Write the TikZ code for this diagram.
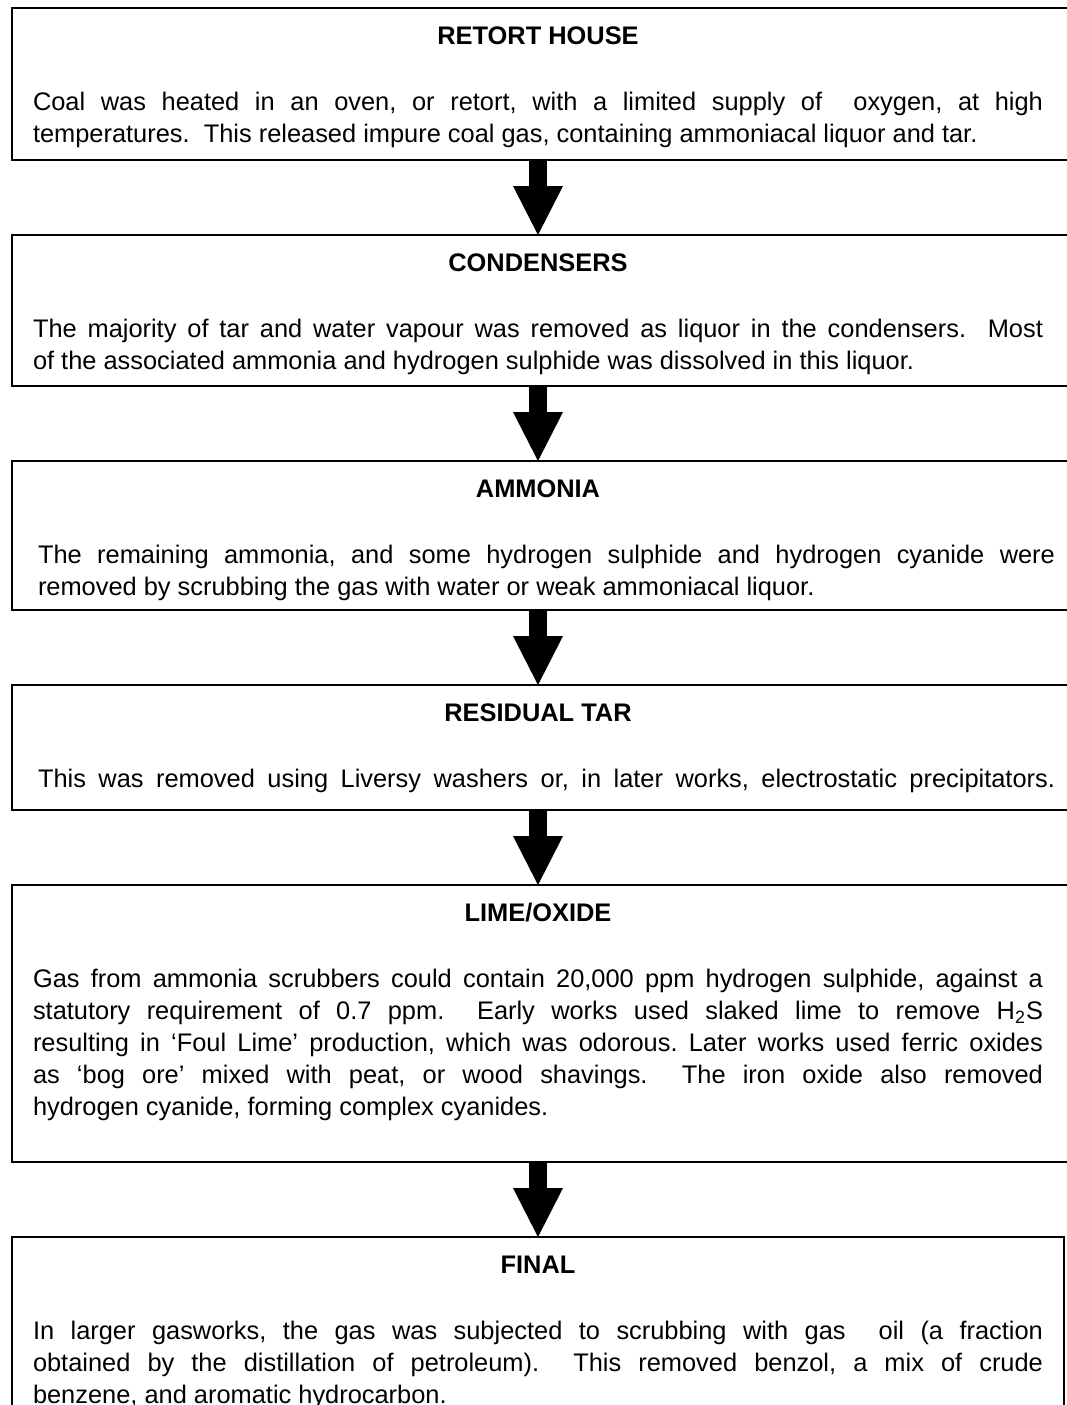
\documentclass[tikz,border=0pt]{standalone}
\usepackage{fontspec}
\setmainfont{Liberation Sans}
\usetikzlibrary{positioning,arrows.meta}
\newcommand{\stagetext}[3]{%
  \parbox[c][#1][t]{505pt}{\frenchspacing\makebox[505pt]{\rule{0pt}{18pt}\textbf{#2}}\par\vspace{17pt}#3}}
\newcommand{\wideset}{\leftskip=2.5pt\rightskip=-6pt\relax}

\begin{document}
\begin{tikzpicture}[
  font=\fontsize{12.7pt}{16pt}\selectfont,
  node distance=37.5pt,
  stage/.style={draw,line width=1pt,inner xsep=10.5pt,inner ysep=0pt,outer sep=0pt},
  openright/.style={draw=none,append after command={\pgfextra{\draw[line width=1pt]
      ([xshift=12pt]\tikzlastnode.north east) -| (\tikzlastnode.south west) -- ([xshift=12pt]\tikzlastnode.south east);}}},
  flow/.style={line width=9pt,-{Triangle[length=24.5pt,width=25pt,line width=0pt]}}
]
\useasboundingbox (0,0) rectangle (533.5pt,-702.5pt);
\node[stage,openright,anchor=north] (retort) at (269pt,-4pt) {\stagetext{76pt}{RETORT HOUSE}{Coal was heated in an oven, or retort, with a limited supply of \ oxygen, at high\linebreak temperatures. \ This released impure coal gas, containing ammoniacal liquor and tar.}};
\node[stage,openright,below=of retort] (cond) {\stagetext{75.5pt}{CONDENSERS}{The majority of tar and water vapour was removed as liquor in the condensers. \ Most\linebreak of the associated ammonia and hydrogen sulphide was dissolved in this liquor.}};
\node[stage,openright,below=of cond] (ammonia) {\stagetext{74.5pt}{AMMONIA}{\wideset The remaining ammonia, and some hydrogen sulphide and hydrogen cyanide were\linebreak removed by scrubbing the gas with water or weak ammoniacal liquor.}};
\node[stage,openright,below=of ammonia] (tar) {\stagetext{62.5pt}{RESIDUAL TAR}{\wideset\parfillskip=0pt This was removed using Liversy washers or, in later works, electrostatic precipitators.}};
\node[stage,openright,below=of tar] (lime) {\stagetext{138.5pt}{LIME/OXIDE}{Gas from ammonia scrubbers could contain 20,000 ppm hydrogen sulphide, against a\linebreak statutory requirement of 0.7 ppm. \ Early works used slaked lime to remove H\textsubscript{2}S\linebreak resulting in ‘Foul Lime’ production, which was odorous. Later works used ferric oxides\linebreak as ‘bog ore’ mixed with peat, or wood shavings. \ The iron oxide also removed\linebreak hydrogen cyanide, forming complex cyanides.}};
\node[stage,below=of lime] (final) {\stagetext{100pt}{FINAL}{In larger gasworks, the gas was subjected to scrubbing with gas \ oil (a fraction\linebreak obtained by the distillation of petroleum). \ This removed benzol, a mix of crude\linebreak benzene, and aromatic hydrocarbon.}};

\draw[flow] (retort) -- (cond);
\draw[flow] (cond) -- (ammonia);
\draw[flow] (ammonia) -- (tar);
\draw[flow] (tar) -- (lime);
\draw[flow] (lime) -- (final);
\end{tikzpicture}
\end{document}
